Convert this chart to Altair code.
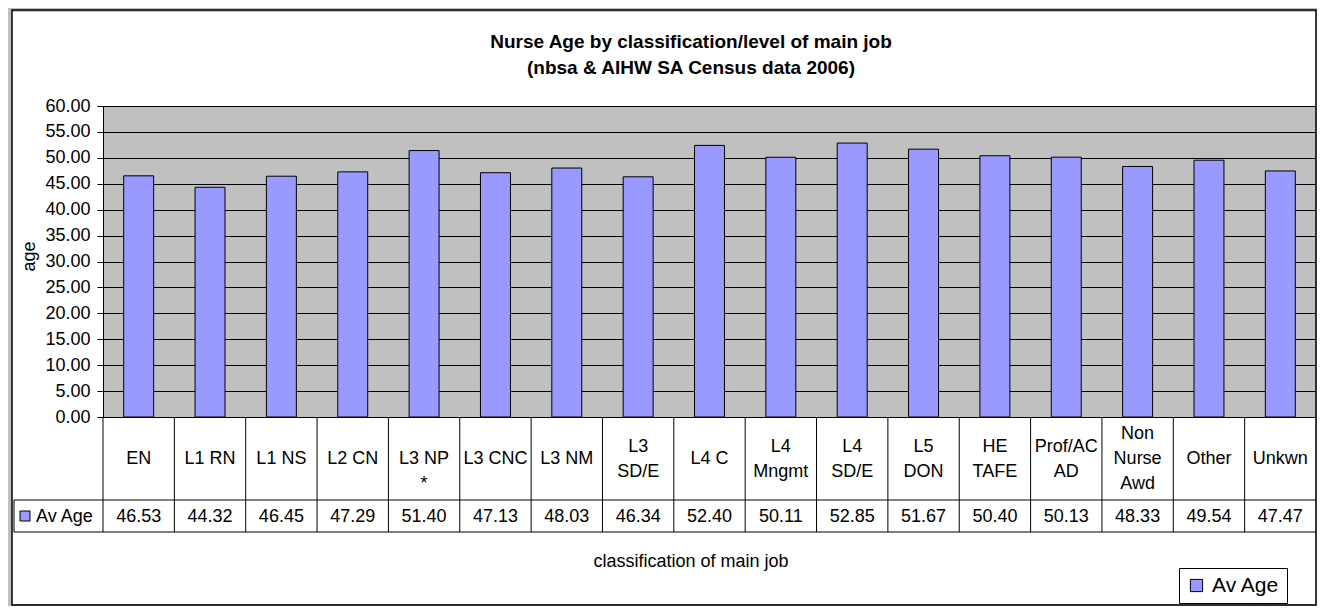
import altair as alt
import pandas as pd

categories = ["EN", "L1 RN", "L1 NS", "L2 CN", "L3 NP *", "L3 CNC", "L3 NM",
              "L3 SD/E", "L4 C", "L4 Mngmt", "L4 SD/E", "L5 DON", "HE TAFE",
              "Prof/AC AD", "Non Nurse Awd", "Other", "Unkwn"]
# how each category label is wrapped in the data table cell
label_lines = [["EN"], ["L1 RN"], ["L1 NS"], ["L2 CN"], ["", "L3 NP", "*"], ["L3 CNC"],
               ["L3 NM"], ["L3", "SD/E"], ["L4 C"], ["L4", "Mngmt"], ["L4", "SD/E"],
               ["L5", "DON"], ["HE", "TAFE"], ["Prof/AC", "AD"], ["Non", "Nurse", "Awd"],
               ["Other"], ["Unkwn"]]
av_age = [46.53, 44.32, 46.45, 47.29, 51.40, 47.13, 48.03, 46.34, 52.40, 50.11,
          52.85, 51.67, 50.40, 50.13, 48.33, 49.54, 47.47]
y_ticks = [0, 5, 10, 15, 20, 25, 30, 35, 40, 45, 50, 55, 60]
series_name = "Av Age"
title_lines = ["Nurse Age by classification/level of main job",
               "(nbsa & AIHW SA Census data 2006)"]
x_title = "classification of main job"
y_title = "age"

W = 1213
H = 311
FONT = "Liberation Sans"
ROW1 = 83   # category row height
ROW2 = 32   # value row height
LH = 25     # line height inside table cells

df = pd.DataFrame({"cat": categories, "val": av_age, "series": series_name})
one = pd.DataFrame({"k": [0]})

rows = []
for cat, lines in zip(categories, label_lines):
    n = len(lines)
    for i, t in enumerate(lines):
        rows.append({"cat": cat, "line": t,
                     "ypix": H + ROW1 / 2 + 0.5 + (i - (n - 1) / 2) * LH})
lab_df = pd.DataFrame(rows)

xscale = alt.Scale(paddingInner=0, paddingOuter=0)
xenc = alt.X("cat:N", sort=categories, axis=None, scale=xscale)

base = alt.Chart(df)

bars = base.mark_bar(width={"band": 0.42}, stroke="black", strokeWidth=1).encode(
    x=xenc,
    y=alt.Y("val:Q", scale=alt.Scale(domain=[0, 60], nice=False),
            axis=alt.Axis(values=y_ticks, format=".2f", title=y_title,
                          grid=True, gridColor="black", gridWidth=1,
                          domainColor="black", tickColor="black", tickSize=6,
                          labelPadding=7, labelFontSize=18, labelFont=FONT,
                          labelColor="black",
                          titleFont=FONT, titleFontSize=18, titleFontWeight="normal",
                          titleColor="black", titleAngle=270, titleX=-74, titleY=150,
                          titleAlign="center", titleBaseline="middle")),
    color=alt.Color("series:N", scale=alt.Scale(range=["#9999ff"]),
                    legend=alt.Legend(title=None, orient="none", legendX=1076, legendY=462,
                                      symbolType="square", symbolSize=150,
                                      symbolStrokeColor="black", symbolStrokeWidth=1,
                                      labelFont=FONT, labelFontSize=21, labelColor="black",
                                      labelOffset=5, padding=7, fillColor="white",
                                      strokeColor="black", cornerRadius=0)),
)

# table vertical separators at band edges
vlines = base.mark_rule(color="black", strokeWidth=1).encode(
    x=alt.X("cat:N", sort=categories, bandPosition=0, axis=None, scale=xscale),
    y=alt.value(H), y2=alt.value(H + ROW1 + ROW2),
)

hline1 = alt.Chart(one).mark_rule(color="black", strokeWidth=1).encode(
    x=alt.value(-89), x2=alt.value(W), y=alt.value(H + ROW1))
hline2 = alt.Chart(one).mark_rule(color="black", strokeWidth=1).encode(
    x=alt.value(-89), x2=alt.value(W), y=alt.value(H + ROW1 + ROW2))
vleft = alt.Chart(one).mark_rule(color="black", strokeWidth=1).encode(
    x=alt.value(-89), y=alt.value(H + ROW1), y2=alt.value(H + ROW1 + ROW2))

cat_text = alt.Chart(lab_df).mark_text(fontSize=18, font=FONT, baseline="middle",
                                       color="black").encode(
    x=alt.X("cat:N", sort=categories, axis=None, scale=xscale),
    y=alt.Y("ypix:Q", scale=None), text="line:N")

val_text = base.mark_text(fontSize=18, font=FONT, baseline="middle", color="black").encode(
    x=xenc, y=alt.value(H + ROW1 + ROW2 / 2 + 0.5), text=alt.Text("val:Q", format=".2f"))

row_sym = alt.Chart(one).mark_square(size=100, fill="#9999ff", stroke="black",
                                     strokeWidth=1, opacity=1).encode(
    x=alt.value(-78), y=alt.value(H + ROW1 + ROW2 / 2))
row_lbl = alt.Chart(one).mark_text(text=series_name, fontSize=18, font=FONT,
                                   align="left", baseline="middle", color="black").encode(
    x=alt.value(-67), y=alt.value(H + ROW1 + ROW2 / 2 + 0.5))

xtitle = alt.Chart(one).mark_text(text=x_title, fontSize=18, font=FONT,
                                  baseline="middle", color="black").encode(
    x=alt.value(588), y=alt.value(456))

title = alt.Chart(one).mark_text(text="\n".join(title_lines), lineBreak="\n",
                                 fontSize=19, font=FONT, fontWeight="bold",
                                 lineHeight=26, baseline="middle", color="black").encode(
    x=alt.value(588), y=alt.value(-64))

# outer frame: gray margin band and black border of the chart box
gray_band = alt.Chart(one).mark_rect(fill=None, stroke="#c0c0c0", strokeWidth=8).encode(
    x=alt.value(-95), x2=alt.value(W + 4), y=alt.value(-98), y2=alt.value(H + 191))
frame = alt.Chart(one).mark_rect(fill=None, stroke="black", strokeWidth=1.5).encode(
    x=alt.value(-91), x2=alt.value(W), y=alt.value(-96), y2=alt.value(H + 188))

chart = alt.layer(
    gray_band, frame, bars, vlines, hline1, hline2, vleft,
    cat_text, val_text, row_sym, row_lbl, xtitle, title
).properties(
    width=W, height=H,
    autosize=alt.AutoSizeParams(type="none"),
    padding={"left": 95, "top": 98, "right": 1, "bottom": 189},
).configure(background="white").configure_view(fill="#c0c0c0", stroke="#808080", strokeWidth=1)

chart.save("out.html", embed_options={"renderer": "svg", "actions": False})
